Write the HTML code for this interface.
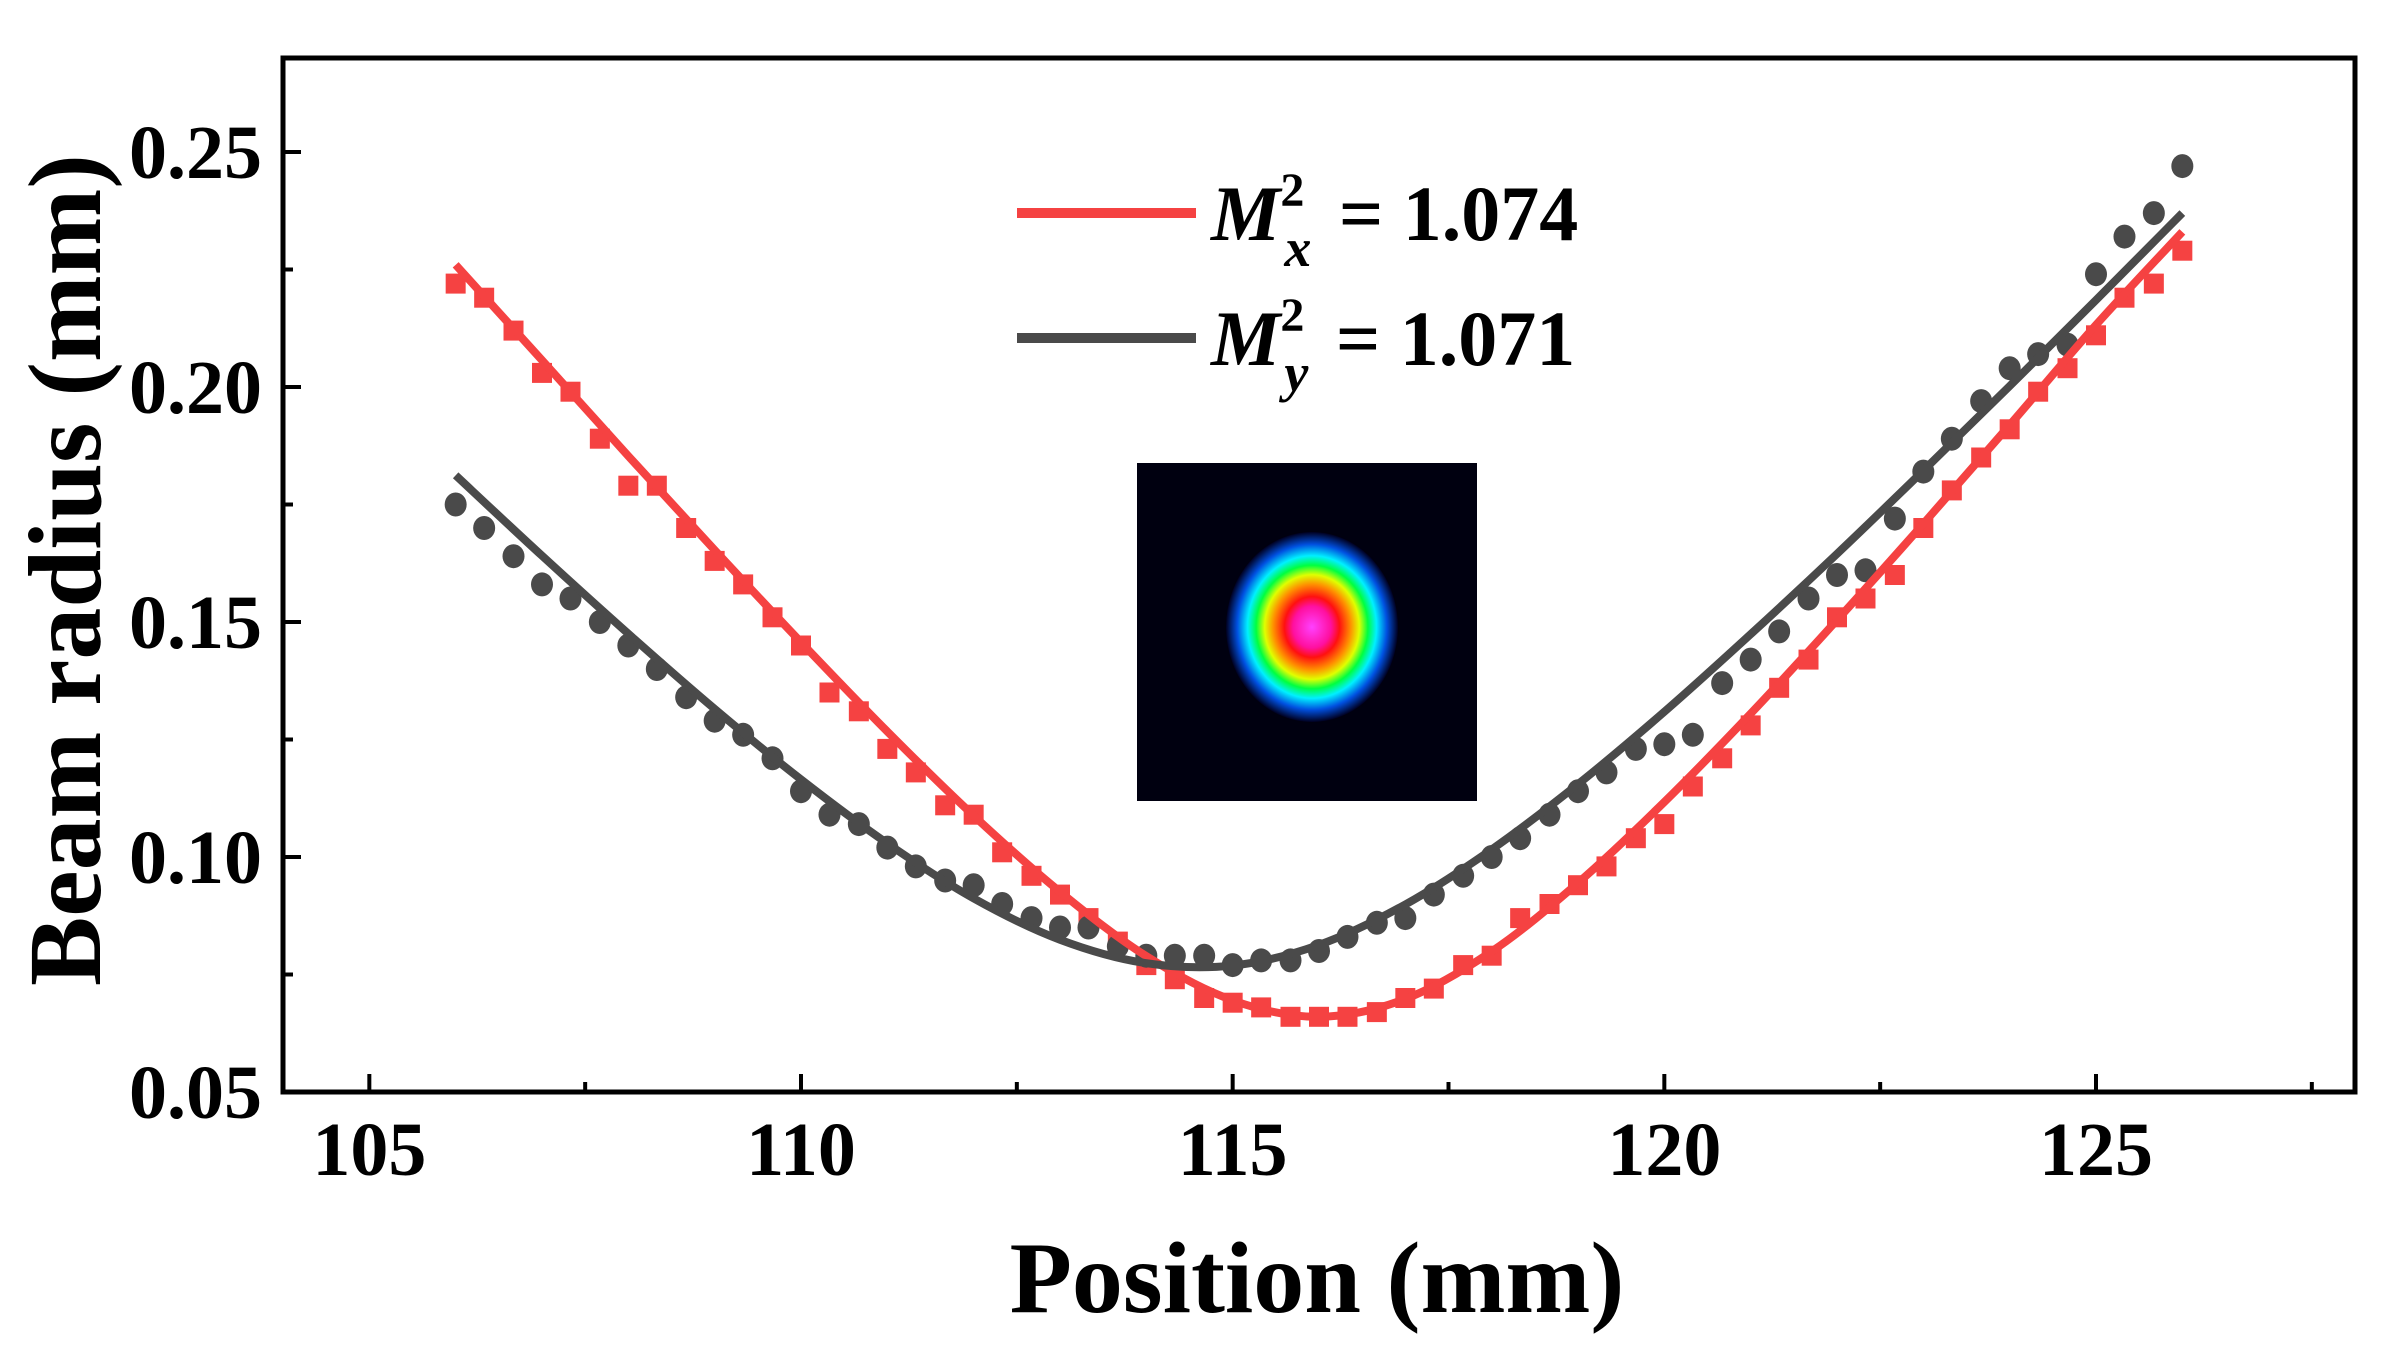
<!DOCTYPE html>
<html><head><meta charset="utf-8"><style>
html,body{margin:0;padding:0;background:#fff;}
svg{display:block;}
text{font-family:"Liberation Serif",serif;font-weight:bold;fill:#000;}
</style></head><body>
<svg id="chart" width="2389" height="1346" viewBox="0 0 2389 1346">
<defs>
<radialGradient id="beamGrad" cx="0.5" cy="0.5" r="0.5">
<stop offset="0" stop-color="#ff40ff"/>
<stop offset="0.22" stop-color="#ff10a0"/>
<stop offset="0.32" stop-color="#ff1010"/>
<stop offset="0.45" stop-color="#ff9000"/>
<stop offset="0.55" stop-color="#e0ff00"/>
<stop offset="0.65" stop-color="#00ff40"/>
<stop offset="0.75" stop-color="#00f0ff"/>
<stop offset="0.87" stop-color="#0050e0"/>
<stop offset="1" stop-color="#000020" stop-opacity="1"/>
</radialGradient>
</defs>
<g id="plot"></g>
</svg>
<script>
const xTicks = [105, 110, 115, 120, 125];
const yTicks = [0.05, 0.10, 0.15, 0.20, 0.25];
const yTickLabels = ["0.05", "0.10", "0.15", "0.20", "0.25"];
const xTickLabels = ["105", "110", "115", "120", "125"];
const measPositions = [106,106.33,106.67,107,107.33,107.67,108,108.33,108.67,109,109.33,109.67,110,110.33,110.67,111,111.33,111.67,112,112.33,112.67,113,113.33,113.67,114,114.33,114.67,115,115.33,115.67,116,116.33,116.67,117,117.33,117.67,118,118.33,118.67,119,119.33,119.67,120,120.33,120.67,121,121.33,121.67,122,122.33,122.67,123,123.33,123.67,124,124.33,124.67,125,125.33,125.67,126];
const radiusX = [0.222,0.219,0.212,0.203,0.199,0.189,0.179,0.179,0.170,0.163,0.158,0.151,0.145,0.135,0.131,0.123,0.118,0.111,0.109,0.101,0.096,0.092,0.087,0.082,0.077,0.074,0.070,0.069,0.068,0.066,0.066,0.066,0.067,0.070,0.072,0.077,0.079,0.087,0.090,0.094,0.098,0.104,0.107,0.115,0.121,0.128,0.136,0.142,0.151,0.155,0.160,0.170,0.178,0.185,0.191,0.199,0.204,0.211,0.219,0.222,0.229];
const radiusY = [0.175,0.170,0.164,0.158,0.155,0.150,0.145,0.140,0.134,0.129,0.126,0.121,0.114,0.109,0.107,0.102,0.098,0.095,0.094,0.090,0.087,0.085,0.085,0.081,0.079,0.079,0.079,0.077,0.078,0.078,0.080,0.083,0.086,0.087,0.092,0.096,0.100,0.104,0.109,0.114,0.118,0.123,0.124,0.126,0.137,0.142,0.148,0.155,0.160,0.161,0.172,0.182,0.189,0.197,0.204,0.207,0.209,0.224,0.232,0.237,0.247];
const fitPositions = [106,107,108,109,110,111,112,113,114,115,116,117,118,119,120,121,122,123,124,125,126];
const fitX = [0.226,0.2057,0.1853,0.1653,0.1457,0.1267,0.1088,0.0926,0.0789,0.0695,0.066,0.0698,0.0799,0.0945,0.1117,0.1305,0.1504,0.1709,0.1919,0.2132,0.233];
const fitY = [0.1812,0.1641,0.1475,0.1315,0.1165,0.1029,0.0912,0.0824,0.0774,0.0769,0.0813,0.0899,0.1016,0.1155,0.1309,0.1474,0.1645,0.1822,0.2002,0.2185,0.237];

const L=283, R=2355, T=58, B=1092;
const X0=104, X1=128, Y0=0.05, Y1=0.27;
const sx = v => L + (v - X0) / (X1 - X0) * (R - L);
const sy = v => B - (v - Y0) / (Y1 - Y0) * (B - T);
const NS='http://www.w3.org/2000/svg';
const g=document.getElementById('plot');
function mk(tag, attrs, parent){const e=document.createElementNS(NS,tag);for(const k in attrs)e.setAttribute(k,attrs[k]);(parent||g).appendChild(e);return e;}

const inset=mk('g',{});


mk('rect',{x:1137,y:463,width:340,height:338,fill:'#000010'},inset);
mk('ellipse',{cx:1312,cy:627,rx:86,ry:95,fill:'url(#beamGrad)'},inset);

function smoothPath(xs, ys){
  const p = xs.map((x,i)=>[sx(x), sy(ys[i])]);
  let d='M'+p[0][0]+','+p[0][1];
  for(let i=0;i<p.length-1;i++){
    const p0=p[Math.max(0,i-1)], p1=p[i], p2=p[i+1], p3=p[Math.min(p.length-1,i+2)];
    const c1=[p1[0]+(p2[0]-p0[0])/6, p1[1]+(p2[1]-p0[1])/6];
    const c2=[p2[0]-(p3[0]-p1[0])/6, p2[1]-(p3[1]-p1[1])/6];
    d+=' C'+c1[0]+','+c1[1]+' '+c2[0]+','+c2[1]+' '+p2[0]+','+p2[1];
  }
  return d;
}

const redG=mk('g',{});


measPositions.forEach((x,i)=>{
  const r=mk('rect',{x:sx(x)-10,y:sy(radiusX[i])-10,width:20,height:20,fill:'#f54242'},redG);
  
  
});
const grayG=mk('g',{});


measPositions.forEach((x,i)=>{
  const c=mk('ellipse',{cx:sx(x),cy:sy(radiusY[i]),rx:11,ry:12,fill:'#4a4a4a'},grayG);
  
  
});
const fr=mk('path',{d:smoothPath(fitPositions,fitX),fill:'none',stroke:'#f54242','stroke-width':8});


const fg=mk('path',{d:smoothPath(fitPositions,fitY),fill:'none',stroke:'#4a4a4a','stroke-width':8});



const frame=mk('rect',{x:L,y:T,width:R-L,height:B-T,fill:'none',stroke:'#000','stroke-width':5});



xTicks.forEach((v,i)=>{
  mk('line',{x1:sx(v),x2:sx(v),y1:B,y2:B-18,stroke:'#000','stroke-width':4});
  mk('line',{x1:sx(v+2.5),x2:sx(v+2.5),y1:B,y2:B-10,stroke:'#000','stroke-width':4});
  const t=mk('text',{x:sx(v),y:1175,'text-anchor':'middle','font-size':76});
  t.textContent=xTickLabels[i];
  
  
});
yTicks.forEach((v,i)=>{
  mk('line',{x1:L,x2:L+18,y1:sy(v),y2:sy(v),stroke:'#000','stroke-width':4});
  if(v+0.025<Y1) mk('line',{x1:L,x2:L+10,y1:sy(v+0.025),y2:sy(v+0.025),stroke:'#000','stroke-width':4});
  const t=mk('text',{x:262,y:sy(v)+26,'text-anchor':'end','font-size':76});
  t.textContent=yTickLabels[i];
  
  
});

const xt=mk('text',{x:1317,y:1312,'text-anchor':'middle','font-size':102});
xt.textContent='Position (mm)';


const yt=mk('text',{x:0,y:0,'text-anchor':'middle','font-size':104,transform:'translate(100,570) rotate(-90)'});
yt.textContent='Beam radius (mm)';



function legend(y, color, sub, val, name){
  const lg=mk('g',{});
  
  
  mk('line',{x1:1017,x2:1196,y1:y,y2:y,stroke:color,'stroke-width':10},lg);
  const t=mk('text',{x:1211,y:y+27,'font-size':78},lg);
  const a=document.createElementNS(NS,'tspan');a.setAttribute('font-style','italic');a.textContent='M';t.appendChild(a);
  const b=document.createElementNS(NS,'tspan');b.setAttribute('font-size','48');b.setAttribute('dy','-34');b.textContent='2';t.appendChild(b);
  const c=document.createElementNS(NS,'tspan');c.setAttribute('font-size','54');c.setAttribute('font-style','italic');c.setAttribute('dy','60');c.setAttribute('dx','-20');c.textContent=sub;t.appendChild(c);
  const d=document.createElementNS(NS,'tspan');d.setAttribute('dy','-26');d.setAttribute('dx','8');d.textContent=' = '+val;t.appendChild(d);
}
legend(213,'#f54242','x','1.074','legend-entry-mx');
legend(338,'#4a4a4a','y','1.071','legend-entry-my');
</script>
</body></html>
